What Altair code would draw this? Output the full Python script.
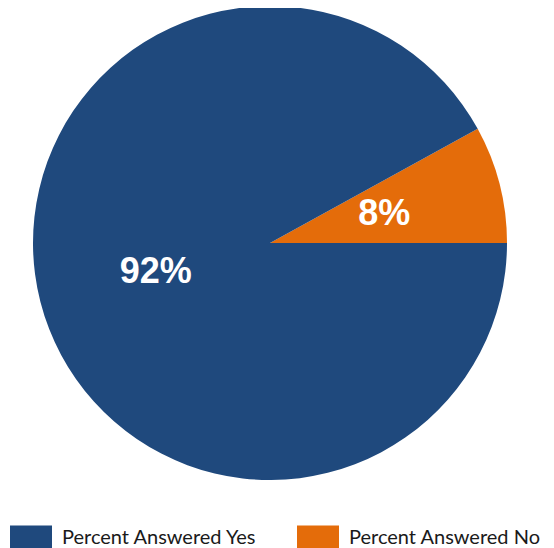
import altair as alt
import pandas as pd
import math

categories = ["Percent Answered No", "Percent Answered Yes"]
values = [8, 92]
labels = ["8%", "92%"]
order = [0, 1]
legend_order = ["Percent Answered Yes", "Percent Answered No"]
legend_colors = ["#1F497D", "#E46C0A"]

df = pd.DataFrame({"cat": categories, "val": values, "label": labels, "ord": order})

start = math.radians(90 - 360 * values[0] / 100)
theta_scale = alt.Scale(range=[start, start + 2 * math.pi])

cx, cy = 262, 235

base = alt.Chart(df).encode(
    theta=alt.Theta("val:Q", stack=True, scale=theta_scale),
    order=alt.Order("ord:Q"),
)

pie = base.mark_arc(radius=237).encode(
    x=alt.value(cx), y=alt.value(cy),
    color=alt.Color(
        "cat:N",
        scale=alt.Scale(domain=legend_order, range=legend_colors),
        legend=alt.Legend(
            title=None,
            orient="none",
            legendX=2,
            legendY=509,
            direction="horizontal",
            symbolType="M-1,-0.62H1V0.62H-1Z",
            symbolSize=1764,
            symbolStrokeWidth=0,
            labelFont="Lato",
            labelFontSize=20,
            labelColor="#1a1a1a",
            labelOffset=10,
            columnPadding=40,
            labelLimit=300,
        ),
    ),
)

text = base.mark_text(
    radius=118, font="Liberation Sans", fontSize=36, fontWeight="bold",
    color="white", align="center", baseline="middle",
).encode(x=alt.value(cx), y=alt.value(cy), text="label:N")

chart = (pie + text).properties(
    width=538, height=540, autosize=alt.AutoSizeParams(type="none"), padding=0
).configure_view(stroke=None)

chart.save("out.html", embed_options={"renderer": "svg", "actions": False})
